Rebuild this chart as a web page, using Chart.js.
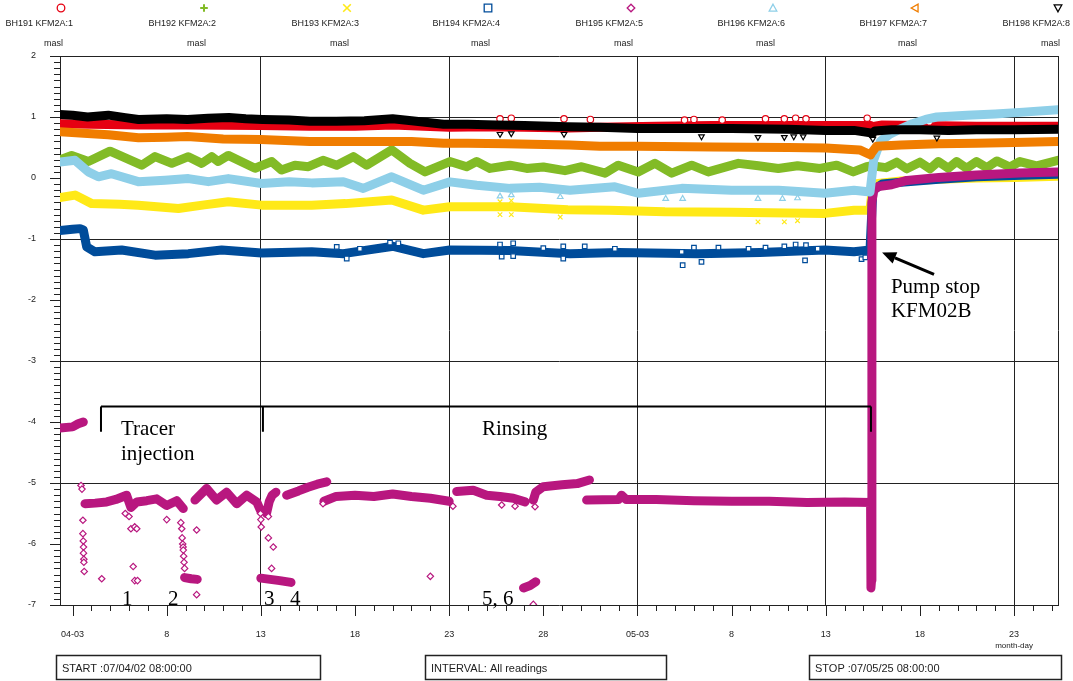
<!DOCTYPE html>
<html><head><meta charset="utf-8">
<script src="https://cdn.jsdelivr.net/npm/chart.js@4.4.0/dist/chart.umd.min.js"></script>
<style>html,body{margin:0;padding:0;background:#fff;}canvas{display:block;}</style>
</head><body>
<canvas id="c" width="1073" height="681"></canvas>
<script>
// ---- axis definitions (x = days since 2007-04-01 00:00) ----
const xStart = 1.3333, xEnd = 54.3333;
const xTickDays = [2,7,12,17,22,27,32,37,42,47,52];
const xTickLabels = ['04-03','8','13','18','23','28','05-03','8','13','18','23'];
const xGridDays = [12,22,32,42,52];
const yTickValues = [2,1,0,-1,-2,-3,-4,-5,-6,-7];
const yGridValues = [2,1,-1,-3,-5];

const seriesNames = ['BH191 KFM2A:1','BH192 KFM2A:2','BH193 KFM2A:3','BH194 KFM2A:4','BH195 KFM2A:5','BH196 KFM2A:6','BH197 KFM2A:7','BH198 KFM2A:8'];
const seriesUnits = ['masl','masl','masl','masl','masl','masl','masl','masl'];

// ---- series values (main bands) ----
const t191 = [1.33,3,5.5,8,12,14.6,17,19,22,24,26,28.4,30,33,36,40,42,44.38,44.45,45,47,50,54.33];
const v191 = [0.89,0.88,0.87,0.87,0.86,0.85,0.85,0.87,0.83,0.84,0.83,0.82,0.83,0.85,0.86,0.86,0.86,0.86,0.84,0.87,0.86,0.85,0.85];

const t192 = [1.33,1.95,2.84,3.99,5.67,6.38,7.27,8.15,8.86,9.39,9.74,10.27,11.69,12.58,13.1,13.81,14.52,15.3,16.03,16.91,17.62,18.95,19.92,20.72,22.04,22.93,23.46,24.17,25.23,26.12,27.0,28.15,29.04,30.28,30.98,32.04,32.93,33.82,34.88,35.76,37.36,38.42,39.48,40.5,41.69,42.58,43.46,44.17,44.45,45.2,45.77,46.3,47.0,47.53,47.98,48.51,48.95,49.48,50.01,50.55,51.08,51.78,52.31,53.2,54.33];
const v192 = [0.30,0.37,0.27,0.44,0.21,0.35,0.24,0.35,0.24,0.35,0.27,0.37,0.16,0.27,0.13,0.21,0.185,0.29,0.21,0.35,0.21,0.46,0.24,0.10,0.27,0.185,0.27,0.157,0.21,0.157,0.18,0.12,0.185,0.08,0.21,0.10,0.24,0.08,0.21,0.10,0.24,0.20,0.157,0.20,0.157,0.21,0.10,0.185,0.20,0.17,0.26,0.15,0.26,0.15,0.27,0.16,0.27,0.16,0.27,0.17,0.28,0.18,0.27,0.20,0.29];

const t193 = [1.33,2.13,3.02,4.5,5.49,7.62,9,10.27,12.04,14.7,16.5,18.95,20.63,22.04,25.23,28.3,30.5,33.46,37,41.96,43.5,44.35,44.5,45,46,48,50,52,54.33];
const v193 = [-0.32,-0.28,-0.42,-0.43,-0.445,-0.5,-0.44,-0.39,-0.445,-0.445,-0.42,-0.36,-0.527,-0.47,-0.47,-0.52,-0.53,-0.555,-0.56,-0.58,-0.53,-0.53,-0.1,-0.08,-0.05,-0.02,0.0,0.01,0.03];

const t194 = [1.33,2.0,2.4,2.57,2.75,3.19,4.61,6.38,8.15,9.92,12.04,14.7,16.38,19.03,20.63,22.04,25.23,28.42,31,35.23,38.5,41.96,43.5,44.35,44.5,45,46,48,50,52,54.33];
const v194 = [-0.86,-0.84,-0.83,-0.85,-1.13,-1.21,-1.18,-1.265,-1.24,-1.18,-1.23,-1.21,-1.24,-1.12,-1.24,-1.18,-1.19,-1.24,-1.22,-1.24,-1.22,-1.18,-1.21,-1.18,-0.2,-0.1,-0.07,-0.02,0.02,0.04,0.06];

// BH195 main band (null = gap between recorded stretches)
const t195 = [1.33,2.0,2.3,2.57,null,
  2.66,3.2,3.81,4.3,4.87,5.1,5.41,5.94,6.47,7.0,7.53,7.88,null,
  7.95,8.3,8.62,null,
  8.5,9.12,9.65,10.18,10.72,11.25,11.78,11.98,null,
  12.0,12.5,13.0,13.6,null,
  12.3,12.45,12.6,12.8,null,
  13.37,14.0,14.5,15.0,15.5,null,
  15.35,16,17,18,19,20,21,22.0,null,
  22.4,23.28,23.99,24.7,25.41,26.03,null,
  25.95,26.3,26.6,null,
  26.47,26.6,27.0,28.0,28.8,29.45,null,
  29.3,31,31.16,31.4,33,35,37,39,41,43,44.38,44.40,44.43,44.45,44.55,44.8,45.5,46.3,48,50,52.3,54.33];
const v195 = [-4.1,-4.08,-4.03,-4.0,null,
  -5.34,-5.33,-5.31,-5.27,-5.2,-5.4,-5.31,-5.29,-5.26,-5.37,-5.29,-5.42,null,
  -6.55,-6.57,-6.58,null,
  -5.28,-5.09,-5.28,-5.15,-5.34,-5.2,-5.31,-5.45,null,
  -6.56,-6.58,-6.6,-6.63,null,
  -5.5,-5.3,-5.2,-5.15,null,
  -5.2,-5.13,-5.07,-5.02,-4.98,null,
  -5.3,-5.22,-5.2,-5.22,-5.18,-5.22,-5.25,-5.3,null,
  -5.14,-5.12,-5.2,-5.22,-5.25,-5.31,null,
  -6.72,-6.68,-6.62,null,
  -5.28,-5.15,-5.06,-5.03,-5.01,-4.95,null,
  -5.28,-5.27,-5.2,-5.27,-5.27,-5.29,-5.3,-5.3,-5.32,-5.31,-5.32,-6.72,-6.6,-0.4,-0.2,-0.14,-0.11,-0.04,0.01,0.05,0.08,0.1];

const t196 = [1.33,2.13,2.84,3.37,4.07,5.49,6.91,8.15,9.21,10.27,12.04,13.5,14.7,16.38,17.44,18.95,20.63,22.04,23.46,25.23,26.8,28.42,30.8,32.04,34.35,37.0,39.5,41.96,43.5,44.35,44.55,44.9,45.4,45.8,46.6,47.3,47.9,49.5,51,52.5,54.33];
const v196 = [0.26,0.29,0.10,0.02,0.07,-0.06,-0.035,-0.01,-0.06,-0.01,-0.09,-0.06,-0.08,-0.063,-0.17,0.02,-0.2,-0.063,-0.12,-0.17,-0.15,-0.2,-0.145,-0.25,-0.17,-0.2,-0.2,-0.25,-0.2,-0.23,0.3,0.6,0.72,0.78,0.89,0.96,1.0,1.03,1.05,1.08,1.12];

const t197 = [1.33,2.8,3.9,5.5,7,8.1,10,12,14.6,16,18,20,21.7,23,25,28.4,30,32,36,40,42,43.8,44.38,44.45,44.7,46,48,50,52,54.33];
const v197 = [0.76,0.73,0.71,0.66,0.67,0.68,0.64,0.63,0.6,0.6,0.6,0.6,0.57,0.57,0.56,0.54,0.52,0.52,0.51,0.5,0.49,0.46,0.38,0.42,0.52,0.54,0.56,0.57,0.58,0.6];

const t198 = [1.33,2.0,2.8,3.9,4.8,5.5,7,8.1,9.2,10.3,11.2,12.1,13.5,14.6,16,17.5,19,20,21.7,23,24.5,26,28.3,30,32,34,37,40,42,43.5,44.38,44.45,44.6,45.5,47,48.5,50,52,54.33];
const v198 = [1.04,1.03,1.0,1.03,0.99,0.96,0.97,0.96,0.98,0.99,0.97,0.96,0.95,0.93,0.93,0.94,0.97,0.94,0.88,0.88,0.87,0.86,0.84,0.83,0.81,0.81,0.81,0.8,0.78,0.78,0.74,0.72,0.77,0.79,0.79,0.78,0.79,0.79,0.8];

// ---- single readings away from the bands ----
const t191pts = [24.7,25.3,28.1,29.5,34.5,35.0,36.5,38.8,39.8,40.4,40.95,44.2,47.5];
const v191pts = [0.97,0.98,0.97,0.96,0.95,0.96,0.95,0.97,0.97,0.98,0.97,0.98,0.92];
const t193pts = [24.7,24.7,25.3,25.3,27.9,38.4,39.8,40.5];
const v193pts = [-0.39,-0.6,-0.37,-0.6,-0.64,-0.72,-0.72,-0.7];
const t194pts = [16.03,16.56,17.26,18.86,19.3,24.7,24.79,25.4,25.4,27.0,28.06,28.06,29.2,30.8,34.35,34.4,35.0,35.4,36.3,37.9,38.8,39.8,40.4,40.9,40.95,41.57,43.9,44.1];
const v194pts = [-1.13,-1.32,-1.16,-1.06,-1.07,-1.09,-1.29,-1.07,-1.28,-1.15,-1.12,-1.32,-1.12,-1.16,-1.21,-1.43,-1.14,-1.375,-1.14,-1.16,-1.14,-1.12,-1.09,-1.35,-1.1,-1.16,-1.33,-1.3];
const t195pts = [2.45,2.5,2.55,2.55,2.57,2.58,2.58,2.6,2.6,2.62,3.55,4.8,5.0,5.1,5.3,5.22,5.3,5.45,5.41,7.0,7.75,7.8,7.82,7.85,7.87,7.88,7.9,7.92,7.95,8.59,8.59,11.98,12.0,12.02,12.4,12.4,12.66,12.57,15.3,21.0,22.2,24.79,25.5,26.56,26.47];
const v195pts = [-5.04,-5.1,-5.61,-5.83,-5.95,-6.05,-6.15,-6.25,-6.3,-6.45,-6.57,-5.5,-5.55,-5.75,-5.72,-6.37,-6.6,-6.6,-5.75,-5.6,-5.65,-5.75,-5.9,-6.0,-6.05,-6.1,-6.2,-6.3,-6.4,-5.77,-6.83,-5.5,-5.6,-5.72,-5.55,-5.9,-6.05,-6.4,-5.34,-6.53,-5.38,-5.36,-5.38,-5.39,-6.99];
const t196pts = [24.7,25.3,27.9,33.5,34.4,38.4,39.7,40.5];
const v196pts = [-0.3,-0.28,-0.31,-0.34,-0.34,-0.34,-0.34,-0.33];
const t198pts = [24.7,25.3,28.1,35.4,38.4,39.8,40.3,40.8,44.5,47.9];
const v198pts = [0.72,0.73,0.72,0.68,0.67,0.67,0.68,0.68,0.64,0.66];

// ---- styles ----
const colors = ['#e60012','#82bb26','#ffe917','#004c9a','#b8177f','#8ecfe8','#f07d00','#000000'];
const markers = ['circle','plus','cross','square','diamond','triUp','triLeft','triDown'];
const SANS = "'Liberation Sans', Arial, sans-serif";
const SERIF = "'Liberation Serif', 'Times New Roman', serif";

function pairs(t, v) {
  const out = []; let last = t[0];
  for (let i = 0; i < t.length; i++) {
    if (t[i] === null || v[i] === null) out.push({x: last, y: null});
    else { out.push({x: t[i], y: v[i]}); last = t[i]; }
  }
  return out;
}
const seriesData = [pairs(t191,v191),pairs(t192,v192),pairs(t193,v193),pairs(t194,v194),pairs(t195,v195),pairs(t196,v196),pairs(t197,v197),pairs(t198,v198)];

const datasets = seriesData.map((d, i) => ({
  label: seriesNames[i], data: d, borderColor: colors[i], backgroundColor: colors[i],
  borderWidth: 9, pointRadius: 0, tension: 0, spanGaps: false, order: 20 - 2 * i,
  borderJoinStyle: 'round', borderCapStyle: 'round'
}));
const pointSets = [
  {i: 0, t: t191pts, v: v191pts, style: 'circle', rot: 0},
  {i: 2, t: t193pts, v: v193pts, style: 'crossRot', rot: 0},
  {i: 3, t: t194pts, v: v194pts, style: 'rect', rot: 0},
  {i: 4, t: t195pts, v: v195pts, style: 'rectRot', rot: 0},
  {i: 5, t: t196pts, v: v196pts, style: 'triangle', rot: 0},
  {i: 7, t: t198pts, v: v198pts, style: 'triangle', rot: 180}
];
pointSets.forEach(p => datasets.push({
  label: seriesNames[p.i] + ' readings', data: pairs(p.t, p.v), showLine: false,
  pointStyle: p.style, pointRotation: p.rot, pointRadius: 3.2, borderWidth: 1.2,
  borderColor: colors[p.i], backgroundColor: '#ffffff', order: 19 - 2 * p.i
}));

// annotation layout (data units)
const notes = {
  bracket: {y: -3.746, yDrop: -4.16, days: [3.51, 12.11, 44.4]},
  texts: [
    {s: 'Tracer', d: 4.57, v: -4.22}, {s: 'injection', d: 4.57, v: -4.63},
    {s: 'Rinsing', d: 23.74, v: -4.22},
    {s: 'Pump stop', d: 45.46, v: -1.89}, {s: 'KFM02B', d: 45.46, v: -2.28},
    {s: '1', d: 4.63, v: -7.0}, {s: '2', d: 7.07, v: -7.0}, {s: '3', d: 12.17, v: -7.0},
    {s: '4', d: 13.55, v: -7.0}, {s: '5, 6', d: 23.74, v: -7.0}
  ],
  arrow: {from: [47.75, -1.58], to: [44.99, -1.22]}
};
const boxes = [
  {s: 'START :07/04/02 08:00:00', x0: 56, x1: 320},
  {s: 'INTERVAL: All readings', x0: 425, x1: 666},
  {s: 'STOP :07/05/25 08:00:00', x0: 809, x1: 1061}
];
const legendX = [61, 204, 347, 488, 631, 773, 915, 1058];

function drawMarker(ctx, kind, x, y, color) {
  const r = 3.8;
  ctx.save(); ctx.strokeStyle = color; ctx.lineWidth = 1.3; ctx.beginPath();
  if (kind === 'circle') ctx.arc(x, y, r, 0, Math.PI * 2);
  else if (kind === 'plus') { ctx.lineWidth = 2; ctx.moveTo(x - r, y); ctx.lineTo(x + r, y); ctx.moveTo(x, y - r); ctx.lineTo(x, y + r); }
  else if (kind === 'cross') { ctx.lineWidth = 1.6; ctx.moveTo(x - r, y - r); ctx.lineTo(x + r, y + r); ctx.moveTo(x + r, y - r); ctx.lineTo(x - r, y + r); }
  else if (kind === 'square') ctx.rect(x - r, y - r, 2 * r, 2 * r);
  else if (kind === 'diamond') { ctx.moveTo(x, y - r); ctx.lineTo(x + r, y); ctx.lineTo(x, y + r); ctx.lineTo(x - r, y); ctx.closePath(); }
  else if (kind === 'triUp') { ctx.moveTo(x, y - r); ctx.lineTo(x + r, y + r * 0.8); ctx.lineTo(x - r, y + r * 0.8); ctx.closePath(); }
  else if (kind === 'triLeft') { ctx.moveTo(x - r, y); ctx.lineTo(x + r * 0.8, y - r); ctx.lineTo(x + r * 0.8, y + r); ctx.closePath(); }
  else if (kind === 'triDown') { ctx.moveTo(x, y + r); ctx.lineTo(x + r, y - r * 0.8); ctx.lineTo(x - r, y - r * 0.8); ctx.closePath(); }
  ctx.stroke(); ctx.restore();
}

const decor = {
  id: 'decor',
  afterDraw(chart) {
    const ctx = chart.ctx, xs = chart.scales.x, ys = chart.scales.y, a = chart.chartArea;
    ctx.save();
    ctx.strokeStyle = '#222'; ctx.lineWidth = 1;
    ctx.beginPath();
    for (let k = -70; k <= 20; k++) {
      const py = Math.round(ys.getPixelForValue(k / 10)) + 0.5;
      const len = (k % 10 === 0) ? 10 : 6;
      ctx.moveTo(a.left - len, py); ctx.lineTo(a.left, py);
    }
    for (let d = 2; d <= 54; d++) {
      const px = Math.round(xs.getPixelForValue(d)) + 0.5;
      const len = ((d - 2) % 5 === 0) ? 11 : 6;
      ctx.moveTo(px, a.bottom); ctx.lineTo(px, a.bottom + len);
    }
    const rx = Math.round(a.right) + 0.5;
    ctx.moveTo(rx, a.top); ctx.lineTo(rx, a.bottom);
    ctx.stroke();

    // legend
    ctx.fillStyle = '#222'; ctx.font = '9px ' + SANS; ctx.textAlign = 'right'; ctx.textBaseline = 'middle';
    legendX.forEach((lx, i) => {
      drawMarker(ctx, markers[i], lx, 8, colors[i]);
      ctx.fillStyle = '#222';
      ctx.fillText(seriesNames[i], lx + 12, 24);
      ctx.fillText(seriesUnits[i], lx + 2, 44);
    });
    ctx.textAlign = 'center'; ctx.font = '8px ' + SANS;
    ctx.fillText('month-day', xs.getPixelForValue(52), 646);

    // bottom boxes
    ctx.font = '11px ' + SANS; ctx.textAlign = 'left'; ctx.textBaseline = 'alphabetic';
    ctx.lineWidth = 1.5;
    boxes.forEach(b => {
      ctx.strokeRect(b.x0 + 0.5, 655.5, b.x1 - b.x0, 24);
      ctx.fillText(b.s, b.x0 + 6, 672);
    });

    // bracket
    ctx.strokeStyle = '#000'; ctx.lineWidth = 2; ctx.beginPath();
    const by = ys.getPixelForValue(notes.bracket.y), bd = ys.getPixelForValue(notes.bracket.yDrop);
    const bx = notes.bracket.days.map(d => xs.getPixelForValue(d));
    ctx.moveTo(bx[0], by); ctx.lineTo(bx[2], by);
    bx.forEach(x => { ctx.moveTo(x, by); ctx.lineTo(x, bd); });
    ctx.stroke();

    ctx.fillStyle = '#000'; ctx.font = '21px ' + SERIF; ctx.textAlign = 'left'; ctx.textBaseline = 'alphabetic';
    notes.texts.forEach(t => ctx.fillText(t.s, xs.getPixelForValue(t.d), ys.getPixelForValue(t.v)));

    const x1 = xs.getPixelForValue(notes.arrow.from[0]), y1 = ys.getPixelForValue(notes.arrow.from[1]);
    const x2 = xs.getPixelForValue(notes.arrow.to[0]), y2 = ys.getPixelForValue(notes.arrow.to[1]);
    const ang = Math.atan2(y2 - y1, x2 - x1), hl = 14, hw = 6;
    const bxp = x2 - hl * Math.cos(ang), byp = y2 - hl * Math.sin(ang);
    ctx.lineWidth = 3; ctx.beginPath(); ctx.moveTo(x1, y1); ctx.lineTo(bxp, byp); ctx.stroke();
    ctx.beginPath(); ctx.moveTo(x2, y2);
    ctx.lineTo(bxp + hw * Math.sin(ang), byp - hw * Math.cos(ang));
    ctx.lineTo(bxp - hw * Math.sin(ang), byp + hw * Math.cos(ang));
    ctx.closePath(); ctx.fill();
    ctx.restore();
  }
};

new Chart(document.getElementById('c'), {
  type: 'line',
  data: {datasets},
  options: {
    responsive: false, animation: false, devicePixelRatio: 1,
    layout: {padding: {top: 56, right: 15, left: 0, bottom: 0}},
    plugins: {legend: {display: false}, tooltip: {enabled: false}},
    scales: {
      x: {
        type: 'linear', min: xStart, max: xEnd,
        afterFit(s) { s.height = 76; },
        afterBuildTicks(s) { s.ticks = xTickDays.map(v => ({value: v})); },
        ticks: {
          autoSkip: false, maxRotation: 0, padding: 24, color: '#222', font: {size: 9, family: SANS},
          callback(v) { const i = xTickDays.indexOf(v); return i >= 0 ? xTickLabels[i] : ''; }
        },
        grid: {drawTicks: false, lineWidth: 1, color: c => (c.tick && xGridDays.includes(c.tick.value)) ? '#222' : 'rgba(0,0,0,0)'},
        border: {display: true, color: '#222', width: 1}
      },
      y: {
        type: 'linear', min: -7, max: 2,
        afterFit(s) { s.width = 60; },
        afterBuildTicks(s) { s.ticks = yTickValues.map(v => ({value: v})); },
        ticks: {padding: 24, color: '#222', font: {size: 9, family: SANS}, callback: v => String(v)},
        grid: {drawTicks: false, lineWidth: 1, color: c => (c.tick && yGridValues.includes(c.tick.value)) ? '#222' : 'rgba(0,0,0,0)'},
        border: {display: true, color: '#222', width: 1}
      }
    }
  },
  plugins: [decor]
});
</script>
</body></html>
